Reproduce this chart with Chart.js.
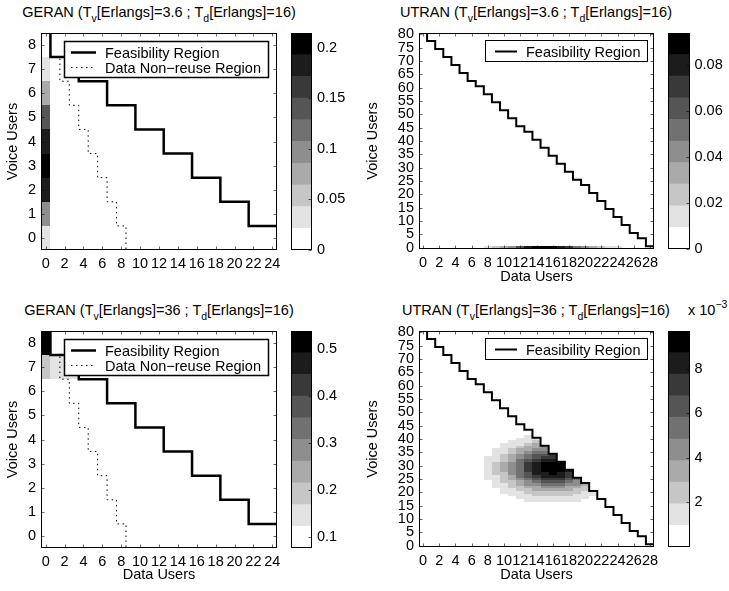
<!DOCTYPE html>
<html lang="en">
<head>
<meta charset="UTF-8">
<title>GERAN / UTRAN occupancy</title>
<style>
    body {
        margin: 0;
        background: #fff;
        width: 729px;
        height: 591px;
        position: relative;
        overflow: hidden;
        font-family: 'Liberation Sans', Arial, Helvetica, sans-serif;
        color: #000;
    }
    canvas { position: absolute; }
    .title {
        position: absolute;
        width: 400px;
        font-size: 14.5px;
        line-height: 17px;
        text-align: center;
        white-space: nowrap;
    }
    .title sub { font-size: 10.5px; vertical-align: -5px; line-height: 0; }
    .exp { position: absolute; font-size: 14.5px; line-height: 17px; white-space: nowrap; }
    .exp sup { font-size: 10.5px; vertical-align: 7px; line-height: 0; }
</style>
<script src="https://cdn.jsdelivr.net/npm/chart.js"></script>
</head>
<body>

<div class="title" style="left:-41px; top:4px;">GERAN (T<sub>v</sub>[Erlangs]=3.6 ; T<sub>d</sub>[Erlangs]=16)</div>
<div class="title" style="left:336px; top:4px;">UTRAN (T<sub>v</sub>[Erlangs]=3.6 ; T<sub>d</sub>[Erlangs]=16)</div>
<div class="title" style="left:-41px; top:302px;">GERAN (T<sub>v</sub>[Erlangs]=36 ; T<sub>d</sub>[Erlangs]=16)</div>
<div class="title" style="left:336px; top:302px;">UTRAN (T<sub>v</sub>[Erlangs]=36 ; T<sub>d</sub>[Erlangs]=16)</div>
<div class="exp" style="left:688px; top:302px;">x 10<sup>−3</sup></div>

<canvas id="geranLow" width="290" height="290" style="left:0; top:0;"></canvas>
<canvas id="geranLowBar" width="80" height="290" style="left:280px; top:0;"></canvas>
<canvas id="utranLow" width="310" height="290" style="left:360px; top:0;"></canvas>
<canvas id="utranLowBar" width="69" height="290" style="left:660px; top:0;"></canvas>
<canvas id="geranHigh" width="290" height="290" style="left:0; top:298px;"></canvas>
<canvas id="geranHighBar" width="80" height="290" style="left:280px; top:298px;"></canvas>
<canvas id="utranHigh" width="310" height="290" style="left:360px; top:298px;"></canvas>
<canvas id="utranHighBar" width="69" height="290" style="left:660px; top:298px;"></canvas>

<script>
    // ---------- axis ticks ----------
    const geranDataTicks = [0, 2, 4, 6, 8, 10, 12, 14, 16, 18, 20, 22, 24];
    const geranVoiceTicks = [0, 1, 2, 3, 4, 5, 6, 7, 8];
    const utranDataTicks = [0, 2, 4, 6, 8, 10, 12, 14, 16, 18, 20, 22, 24, 26, 28];
    const utranVoiceTicks = [0, 5, 10, 15, 20, 25, 30, 35, 40, 45, 50, 55, 60, 65, 70, 75, 80];

    // ---------- region boundaries ----------
    // GERAN: largest number of data users for 0..8 voice users
    const geranMaxData = [24, 21, 18, 15, 12, 9, 6, 3, 0];
    const geranNonReuseMaxData = [8, 7, 6, 5, 4, 3, 2, 1, 0];
    // UTRAN: largest number of voice users for 0..28 data users
    const utranMaxVoice = [80, 77, 74, 71, 68, 65, 62, 60, 57, 54, 51, 48, 45, 43, 40,
                           37, 34, 31, 28, 25, 23, 20, 17, 14, 11, 8, 5, 3, 0];

    // ---------- state probabilities ----------
    // GERAN, Tv=3.6: only the zero-data column is occupied (voice 0..8)
    const geranLowProb = [0.027, 0.098, 0.177, 0.212, 0.191, 0.138, 0.083, 0.040, 0.019];
    // GERAN, Tv=36: [voice, data, probability]
    const geranHighCells = [[8, 0, 0.535], [7, 0, 0.19], [7, 1, 0.145], [7, 2, 0.14], [7, 3, 0.135]];
    // UTRAN, Tv=3.6: [voice, first data count, probabilities...]
    const utranLowRows = [
        [0, 8, [0.012, 0.020, 0.031, 0.045, 0.060, 0.075, 0.085, 0.092, 0.090, 0.083, 0.070, 0.055, 0.040, 0.030, 0.020, 0.013, 0.010]]
    ];
    // UTRAN, Tv=36: [voice, first data count, probabilities x 1e-3...]
    const utranHighRows = [
        [41, 13, [1.2]],
        [40, 12, [1.2, 1.4, 1.6]],
        [39, 11, [1.1, 1.4, 1.8, 2.3]],
        [38, 10, [1.1, 1.4, 1.9, 2.5, 3.0]],
        [37, 10, [1.3, 1.8, 2.5, 3.2, 3.7, 4.0]],
        [36, 9, [1.1, 1.5, 2.2, 3.0, 3.7, 4.4, 4.8]],
        [35, 9, [1.2, 1.8, 2.6, 3.5, 4.4, 5.2, 5.7]],
        [34, 9, [1.4, 2.1, 3.0, 4.0, 5.0, 5.9, 6.5, 6.9]],
        [33, 8, [1.0, 1.6, 2.4, 3.4, 4.5, 5.6, 6.6, 7.3, 7.7]],
        [32, 8, [1.1, 1.8, 2.7, 3.8, 5.0, 6.2, 7.2, 8.0, 8.3]],
        [31, 8, [1.2, 2.0, 3.0, 4.1, 5.4, 6.8, 8.0, 8.8, 9.1, 8.9]],
        [30, 8, [1.2, 2.1, 3.1, 4.3, 5.6, 7.1, 8.4, 9.3, 9.6, 9.2]],
        [29, 8, [1.3, 2.1, 3.2, 4.4, 5.8, 7.3, 8.6, 9.5, 9.7, 9.3]],
        [28, 8, [1.2, 2.1, 3.1, 4.3, 5.6, 7.1, 8.4, 9.2, 9.4, 9.0, 8.1]],
        [27, 8, [1.2, 2.0, 2.9, 4.0, 5.3, 6.7, 7.9, 8.7, 8.9, 8.5, 7.7]],
        [26, 8, [1.1, 1.8, 2.7, 3.7, 4.9, 6.1, 7.2, 7.9, 8.1, 7.8, 7.1]],
        [25, 8, [1.0, 1.6, 2.4, 3.3, 4.4, 5.4, 6.4, 7.0, 7.2, 6.9, 6.3, 5.4]],
        [24, 9, [1.4, 2.1, 2.9, 3.8, 4.7, 5.5, 6.0, 6.2, 5.9, 5.4, 4.7]],
        [23, 9, [1.2, 1.8, 2.5, 3.2, 4.0, 4.6, 5.0, 5.1, 4.9, 4.5, 3.9, 3.3]],
        [22, 9, [1.0, 1.5, 2.1, 2.7, 3.3, 3.8, 4.1, 4.2, 4.0, 3.7, 3.2, 2.7]],
        [21, 10, [1.3, 1.8, 2.3, 2.8, 3.1, 3.4, 3.4, 3.2, 3.0, 2.6, 2.2]],
        [20, 10, [1.0, 1.4, 1.8, 2.2, 2.5, 2.7, 2.8, 2.6, 2.4, 2.1, 1.8, 1.4]],
        [19, 11, [1.1, 1.4, 1.8, 2.0, 2.2, 2.3, 2.2, 2.0, 1.8, 1.5, 1.1]],
        [18, 12, [1.1, 1.3, 1.5, 1.7, 1.8, 1.7, 1.5, 1.3, 1.1]],
        [17, 13, [1.0, 1.2, 1.3, 1.4, 1.3, 1.2, 1.0]]
    ];

    // ---------- colour scale ----------
    const grayRamp = ['#ffffff', '#e3e3e3', '#c6c6c6', '#aaaaaa', '#8e8e8e',
                      '#717171', '#555555', '#393939', '#1c1c1c', '#000000'];
    const geranLowRange = [0, 0.2148];
    const geranHighRange = [0.077, 0.538];
    const utranLowRange = [0, 0.0937];
    const utranHighRange = [0, 0.0097];
    const geranLowBarTicks = [0, 0.05, 0.1, 0.15, 0.2];
    const geranHighBarTicks = [0.1, 0.2, 0.3, 0.4, 0.5];
    const utranLowBarTicks = [0, 0.02, 0.04, 0.06, 0.08];
    const utranHighBarTicks = [0.002, 0.004, 0.006, 0.008];

    const FONT = "'Liberation Sans', Arial, Helvetica, sans-serif";
    Chart.defaults.font.family = FONT;
    Chart.defaults.font.size = 14.5;
    Chart.defaults.color = '#000';
    Chart.defaults.animation = false;
    Chart.defaults.plugins.legend.display = false;
    Chart.defaults.plugins.tooltip.enabled = false;

    // staircase that steps down one voice level at a time
    function voiceStairs(maxData, dropLast) {
        const pts = [];
        for (let v = maxData.length - 1; v >= 0; v--) {
            pts.push({ x: maxData[v] + 0.5, y: v + 0.5 });
            pts.push({ x: maxData[v] + 0.5, y: v - 0.5 });
        }
        if (dropLast) pts.pop();
        return pts;
    }

    // staircase that steps across one data count at a time
    function dataStairs(maxVoice) {
        const pts = [];
        maxVoice.forEach((m, d) => {
            pts.push({ x: d - 0.5, y: m + 0.5 });
            pts.push({ x: d + 0.5, y: m + 0.5 });
        });
        return pts;
    }

    function rowsToCells(rows, unit) {
        const cells = [];
        rows.forEach(([v, d0, vals]) => vals.forEach((p, i) => cells.push([d0 + i, v, p * unit])));
        return cells;
    }

    // one grey cell per (data, voice) state, banded into 10 levels
    const heatmapPlugin = {
        id: 'heatmap',
        beforeDatasetsDraw(chart, args, opts) {
            if (!opts.cells) return;
            const { ctx, chartArea: a, scales: { x, y } } = chart;
            const [cmin, cmax] = opts.range;
            ctx.save();
            ctx.beginPath();
            ctx.rect(a.left, a.top, a.width, a.height);
            ctx.clip();
            opts.cells.forEach(([d, v, p]) => {
                const level = Math.min(9, Math.floor((p - cmin) / (cmax - cmin) * 10));
                if (level <= 0) return;
                const x0 = Math.round(x.getPixelForValue(d - 0.5));
                const x1 = Math.round(x.getPixelForValue(d + 0.5));
                const y0 = Math.round(y.getPixelForValue(v + 0.5));
                const y1 = Math.round(y.getPixelForValue(v - 0.5));
                ctx.fillStyle = grayRamp[level];
                ctx.fillRect(x0, y0, x1 - x0, y1 - y0);
            });
            ctx.restore();
        }
    };

    // boxed axes with small inward ticks
    const framePlugin = {
        id: 'frame',
        afterDatasetsDraw(chart, args, opts) {
            const { ctx, chartArea: a } = chart;
            const L = Math.round(a.left) + 0.5, R = Math.round(a.right) - 0.5;
            const T = Math.round(a.top) + 0.5, B = Math.round(a.bottom) - 0.5;
            ctx.save();
            ctx.strokeStyle = '#000';
            ctx.lineWidth = 0.6;
            ctx.beginPath();
            if (opts.xTicks) {
                chart.scales.x.ticks.forEach(t => {
                    const px = Math.round(chart.scales.x.getPixelForValue(t.value)) + 0.5;
                    ctx.moveTo(px, B); ctx.lineTo(px, B - 3);
                    ctx.moveTo(px, T); ctx.lineTo(px, T + 3);
                });
            }
            const ys = chart.scales.y;
            ys.ticks.forEach(t => {
                const py = Math.round(ys.getPixelForValue(t.value)) + 0.5;
                if (opts.xTicks) { ctx.moveTo(L, py); ctx.lineTo(L + 3, py); }
                ctx.moveTo(R, py); ctx.lineTo(R - 3, py);
            });
            ctx.stroke();
            ctx.lineWidth = 1;
            ctx.strokeRect(L, T, R - L, B - T);
            ctx.restore();
        }
    };

    // legend box drawn inside the upper right of the axes
    const boxLegendPlugin = {
        id: 'boxLegend',
        afterDraw(chart, args, opts) {
            const { ctx, chartArea: a } = chart;
            const items = chart.data.datasets.filter(ds => ds.label);
            ctx.save();
            ctx.font = '14.5px ' + FONT;
            const textW = Math.max(...items.map(ds => ctx.measureText(ds.label).width));
            const rowH = 15, textX = 41;
            const w = Math.round(textX + textW + 7), h = items.length * rowH + 6;
            const x0 = Math.round(a.right - opts.right - w), y0 = Math.round(a.top + opts.top);
            ctx.fillStyle = '#fff';
            ctx.fillRect(x0, y0, w, h);
            ctx.strokeStyle = '#000';
            ctx.lineWidth = opts.borderWidth;
            ctx.strokeRect(x0 + 0.5, y0 + 0.5, w, h);
            items.forEach((ds, i) => {
                const cy = Math.round(y0 + 3 + rowH * (i + 0.5)) + 0.5;
                ctx.beginPath();
                ctx.setLineDash(ds.borderDash || []);
                ctx.lineWidth = ds.borderWidth;
                ctx.moveTo(x0 + opts.sampleStart, cy);
                ctx.lineTo(x0 + opts.sampleStart + opts.sampleLen, cy);
                ctx.stroke();
                ctx.setLineDash([]);
                ctx.fillStyle = '#000';
                ctx.textBaseline = 'middle';
                ctx.textAlign = 'left';
                ctx.fillText(ds.label, x0 + textX, cy + 1);
            });
            ctx.restore();
        }
    };

    function makePlot(id, cfg) {
        return new Chart(document.getElementById(id), {
            type: 'scatter',
            data: { datasets: cfg.lines },
            options: {
                responsive: false,
                layout: { padding: { top: 33, right: cfg.padRight, left: 0, bottom: 0 } },
                elements: { point: { radius: 0 } },
                scales: {
                    x: {
                        type: 'linear', min: cfg.xRange[0], max: cfg.xRange[1],
                        afterBuildTicks: s => { s.ticks = cfg.xTicks.map(value => ({ value })); },
                        afterFit: s => { s.height = cfg.xHeight; },
                        grid: { display: false, drawTicks: false },
                        border: { display: false },
                        ticks: { padding: 5, maxRotation: 0, autoSkip: false, callback: v => v },
                        title: { display: cfg.xTitle, text: 'Data Users', padding: { top: 0, bottom: 4 } }
                    },
                    y: {
                        type: 'linear', min: cfg.yRange[0], max: cfg.yRange[1],
                        afterBuildTicks: s => { s.ticks = cfg.yTicks.map(value => ({ value })); },
                        afterFit: s => { s.width = cfg.yWidth; },
                        grid: { display: false, drawTicks: false },
                        border: { display: false },
                        ticks: { padding: 5, autoSkip: false, callback: v => v },
                        title: { display: true, text: 'Voice Users', padding: { top: 4, bottom: 0 } }
                    }
                },
                plugins: {
                    heatmap: { cells: cfg.cells, range: cfg.crange },
                    frame: { xTicks: true },
                    boxLegend: cfg.legend
                }
            },
            plugins: [heatmapPlugin, framePlugin, boxLegendPlugin]
        });
    }

    // colour bar: ten stacked bands from the lower to the upper colour limit
    function makeColorbar(id, cfg) {
        const [cmin, cmax] = cfg.range;
        const band = (cmax - cmin) / grayRamp.length;
        return new Chart(document.getElementById(id), {
            type: 'bar',
            data: {
                labels: [''],
                datasets: grayRamp.map((c, i) => ({
                    data: [i === 0 ? cmin + band : band],
                    backgroundColor: c,
                    borderWidth: 0,
                    barPercentage: 1,
                    categoryPercentage: 1
                }))
            },
            options: {
                responsive: false,
                layout: { padding: { top: 33, left: cfg.padLeft, right: 0, bottom: cfg.padBottom } },
                scales: {
                    x: { display: false, stacked: true },
                    y: {
                        stacked: true, position: 'right', min: cmin, max: cmax,
                        afterBuildTicks: s => { s.ticks = cfg.ticks.map(value => ({ value })); },
                        afterFit: s => { s.width = cfg.axisWidth; },
                        grid: { display: false, drawTicks: false },
                        border: { display: false },
                        ticks: { padding: 5, autoSkip: false, callback: cfg.format }
                    }
                },
                plugins: { frame: { xTicks: false } }
            },
            plugins: [framePlugin]
        });
    }

    const feasibleStyle = { label: 'Feasibility Region', borderColor: '#000', showLine: true, fill: false };
    const nonReuseStyle = { label: 'Data Non\u2212reuse Region', borderColor: '#000', borderWidth: 1,
                            borderDash: [1.5, 3.5], showLine: true, fill: false };

    // ---------- GERAN panels ----------
    [['geranLow', geranLowProb.map((p, v) => [0, v, p]), geranLowRange, false],
     ['geranHigh', geranHighCells.map(([v, d, p]) => [d, v, p]), geranHighRange, true]].forEach(([id, cells, crange, xTitle]) => {
        makePlot(id, {
            lines: [
                { ...feasibleStyle, borderWidth: 2.5, data: voiceStairs(geranMaxData, true) },
                { ...nonReuseStyle, data: voiceStairs(geranNonReuseMaxData, false) }
            ],
            cells, crange, xTitle,
            xRange: [-0.5, 24.5], yRange: [-0.5, 8.5],
            xTicks: geranDataTicks, yTicks: geranVoiceTicks,
            yWidth: 41, xHeight: 40, padRight: 13,
            legend: { right: 9, top: 8, borderWidth: 1.5, sampleStart: 7, sampleLen: 25 }
        });
    });

    // ---------- UTRAN panels ----------
    [['utranLow', rowsToCells(utranLowRows, 1), utranLowRange],
     ['utranHigh', rowsToCells(utranHighRows, 1e-3), utranHighRange]].forEach(([id, cells, crange]) => {
        makePlot(id, {
            lines: [{ ...feasibleStyle, borderWidth: 2, data: dataStairs(utranMaxVoice) }],
            cells, crange, xTitle: true,
            xRange: [-0.5, 28.5], yRange: [-0.5, 80.5],
            xTicks: utranDataTicks, yTicks: utranVoiceTicks,
            yWidth: 59, xHeight: 41, padRight: 16,
            legend: { right: 7, top: 7, borderWidth: 1, sampleStart: 10, sampleLen: 22 }
        });
    });

    // ---------- colour bars ----------
    const plain = v => +v.toFixed(3);
    makeColorbar('geranLowBar', { range: geranLowRange, ticks: geranLowBarTicks, format: plain,
                                  padLeft: 11, padBottom: 40, axisWidth: 48 });
    makeColorbar('geranHighBar', { range: geranHighRange, ticks: geranHighBarTicks, format: plain,
                                   padLeft: 11, padBottom: 40, axisWidth: 48 });
    makeColorbar('utranLowBar', { range: utranLowRange, ticks: utranLowBarTicks, format: plain,
                                  padLeft: 8, padBottom: 41, axisWidth: 39.5 });
    makeColorbar('utranHighBar', { range: utranHighRange, ticks: utranHighBarTicks,
                                   format: v => Math.round(v * 1000),
                                   padLeft: 8, padBottom: 41, axisWidth: 39.5 });
</script>
</body>
</html>
